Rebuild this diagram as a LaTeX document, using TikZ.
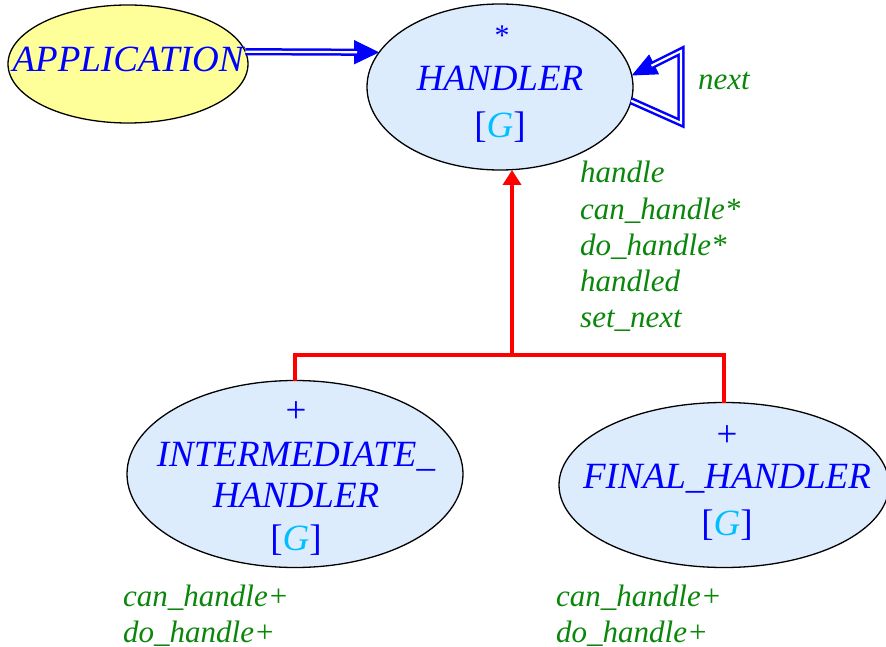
\documentclass[tikz,border=0pt]{standalone}
\usepackage{fontspec}
\setmainfont{Liberation Serif}
\usetikzlibrary{shapes.geometric,arrows.meta,calc}
\definecolor{ublue}{RGB}{0,0,255}
\definecolor{gcyan}{RGB}{0,190,255}
\definecolor{ugreen}{RGB}{10,135,10}
\definecolor{appyellow}{RGB}{255,255,153}
\definecolor{clsblue}{RGB}{221,236,252}
\begin{document}
\begin{tikzpicture}[x=1pt,y=-1pt,
  ell/.style={ellipse, draw=black, line width=1.3pt, inner sep=0pt, outer sep=0pt},
  btext/.style={text=ublue, font=\fontsize{37}{40}\selectfont\itshape, inner sep=0pt, anchor=base},
  bsym/.style={text=ublue, font=\fontsize{37}{40}\selectfont, inner sep=0pt, anchor=base},
  gtext/.style={text=ugreen, font=\fontsize{31}{36}\selectfont\itshape, inner sep=0pt, anchor=base west},
  dbl/.style={draw=ublue, line width=2.5pt, double=white, double distance=2.2pt, line join=miter},
  redline/.style={draw=red, line width=4pt},
]
\useasboundingbox (0,0) rectangle (886,647);

% ellipses
\node[ell, fill=appyellow, minimum width=240pt, minimum height=118pt] (app) at (128,64) {};
\node[ell, fill=clsblue, minimum width=266pt, minimum height=166pt] (handler) at (500,87) {};
\node[ell, fill=clsblue, minimum width=336pt, minimum height=187pt] (inter) at (295,474) {};
\node[ell, fill=clsblue, minimum width=330pt, minimum height=165pt] (final) at (724,485) {};

% texts in ellipses
\node[btext] (tapp) at (128,72) {APPLICATION};
\node[bsym, font=\fontsize{30}{30}\selectfont] (hstar) at (502,46) {*};
\node[btext] (thandler) at (500,91) {HANDLER};
\node[bsym] (hg) at (500,138) {[\textit{\color{gcyan}G}]};
\node[bsym] (iplus) at (296,422) {+};
\node[btext] (tinter1) at (296,466) {INTERMEDIATE\_};
\node[btext] (tinter2) at (296,507) {HANDLER};
\node[bsym] (ig) at (296,550) {[\textit{\color{gcyan}G}]};
\node[bsym] (fplus) at (727,446) {+};
\node[btext] (tfinal) at (727,488) {FINAL\_HANDLER};
\node[bsym] (fg) at (727,535) {[\textit{\color{gcyan}G}]};

% client arrow APPLICATION -> HANDLER
\draw[ublue, line width=1pt, -{Triangle[length=25pt,width=24pt]}] (app.6) -- (handler.164);
\draw[dbl, shorten >=22pt] (app.6) -- (handler.164);

% self loop "next"
\coordinate (loopA) at (681,123);
\coordinate (loopB) at (681,51);
\draw[ublue, line width=1pt, -{Triangle[length=25pt,width=22pt]}] (loopB) -- (handler.5);
\draw[dbl, shorten >=22pt] (handler.-6) -- (loopA) -- (loopB) -- (handler.5);
\node[gtext] (lnext) at (698,90) {next};

% inheritance
\coordinate (jn) at (512,355);
\draw[redline, -{Triangle[length=15pt,width=18pt]}] (jn) -- (jn |- handler.south);
\draw[redline, line join=miter] (inter.north) |- (jn) -| (final.north);

% feature labels
\node[gtext] (f1) at (580,183) {handle};
\node[gtext] (f2) at (580,219) {can\_handle*};
\node[gtext] (f3) at (580,255) {do\_handle*};
\node[gtext] (f4) at (580,291) {handled};
\node[gtext] (f5) at (580,327) {set\_next};

\node[gtext] (i1) at (123,606) {can\_handle+};
\node[gtext] (i2) at (123,642) {do\_handle+};
\node[gtext] (j1) at (556,606) {can\_handle+};
\node[gtext] (j2) at (556,642) {do\_handle+};
\end{tikzpicture}
\end{document}
